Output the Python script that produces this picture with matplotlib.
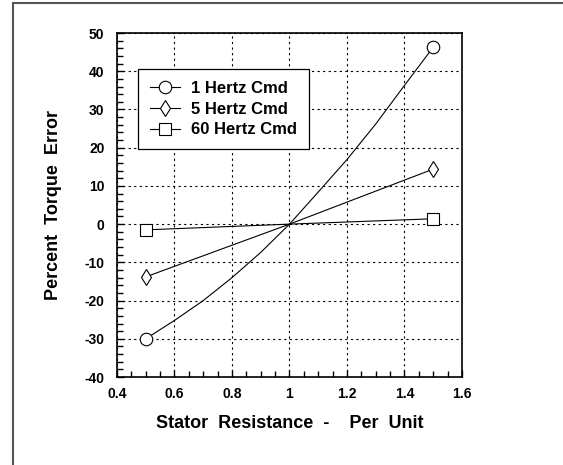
import numpy as np
import matplotlib
matplotlib.use("Agg")
import matplotlib.pyplot as plt
from matplotlib.lines import Line2D
from matplotlib.ticker import MultipleLocator

plt.rcParams["font.family"] = ["Liberation Sans", "DejaVu Sans"]
plt.rcParams["font.weight"] = "bold"
plt.rcParams["axes.unicode_minus"] = False

# stator resistance (per unit) and torque error (percent)
r_1hz = [0.5, 0.6, 0.7, 0.8, 0.9, 1.0, 1.1, 1.2, 1.3, 1.4, 1.5]
err_1hz = [-30.0, -25.2, -20.0, -14.0, -7.4, 0.0, 8.4, 16.9, 26.2, 36.3, 46.3]
r_5hz = [0.5, 1.0, 1.5]
err_5hz = [-13.8, 0.0, 14.4]
r_60hz = [0.5, 1.0, 1.5]
err_60hz = [-1.5, 0.0, 1.4]

labels = ["1 Hertz Cmd", "5 Hertz Cmd", "60 Hertz Cmd"]
markers = ["o", "d", "s"]
msizes = [9, 8, 9]

fig = plt.figure(figsize=(5.63, 4.65), dpi=100)
ax = fig.add_axes([0.2078, 0.1892, 0.6128, 0.7398])

series = [(r_1hz, err_1hz), (r_5hz, err_5hz), (r_60hz, err_60hz)]
handles = []
for (x, y), lab, mk, ms in zip(series, labels, markers, msizes):
    x = np.array(x)
    y = np.array(y)
    ax.plot(x, y, color="black", lw=0.8, zorder=3)
    # markers only at the two end points
    ax.plot(x[[0, -1]], y[[0, -1]], ls="none", marker=mk, ms=ms,
            mfc="white", mec="black", mew=0.8, zorder=4)
    handles.append(Line2D([], [], color="black", lw=0.8, marker=mk, ms=ms,
                          mfc="white", mec="black", mew=0.8, label=lab))

ax.set_xlim(0.4, 1.6)
ax.set_ylim(-40, 50)
ax.xaxis.set_major_locator(MultipleLocator(0.2))
ax.xaxis.set_minor_locator(MultipleLocator(0.05))
ax.yaxis.set_major_locator(MultipleLocator(10))
ax.yaxis.set_minor_locator(MultipleLocator(2))
ax.set_xticks([0.4, 0.6, 0.8, 1.0, 1.2, 1.4, 1.6])
ax.set_xticklabels(["0.4", "0.6", "0.8", "1", "1.2", "1.4", "1.6"])

ax.tick_params(which="both", direction="in", top=False, right=False,
               labelsize=10, color="black")
ax.tick_params(axis="x", which="major", pad=7)
ax.tick_params(axis="y", which="major", pad=9)
ax.tick_params(which="major", length=5, width=1)
ax.tick_params(which="minor", length=4, width=1)
for lab in ax.get_xticklabels() + ax.get_yticklabels():
    lab.set_fontweight("bold")

ax.grid(True, which="major", color="black", lw=0.8, ls=(0, (2, 3)))
for sp in ax.spines.values():
    sp.set_linewidth(1.2)
    sp.set_color("black")

ax.set_xlabel("Stator  Resistance  -    Per  Unit", fontsize=13,
              fontweight="bold", labelpad=10)
ax.set_ylabel("Percent  Torque  Error", fontsize=13, fontweight="bold",
              labelpad=16)

leg = ax.legend(handles=handles, loc="upper left",
                bbox_to_anchor=(0.061, 0.895), borderaxespad=0,
                fancybox=False, framealpha=1, edgecolor="black",
                prop={"size": 12, "weight": "bold"}, handlelength=1.8,
                handletextpad=0.7, labelspacing=0.35, borderpad=0.7)
leg.get_frame().set_linewidth(0.9)

# page frame along the left and top edges
fig.add_artist(Line2D([0.023, 0.023], [0.0, 0.994], color="#555555", lw=1.5))
fig.add_artist(Line2D([0.023, 1.0], [0.994, 0.994], color="#555555", lw=1.5))

fig.savefig("out.png", dpi=100, facecolor="white")
